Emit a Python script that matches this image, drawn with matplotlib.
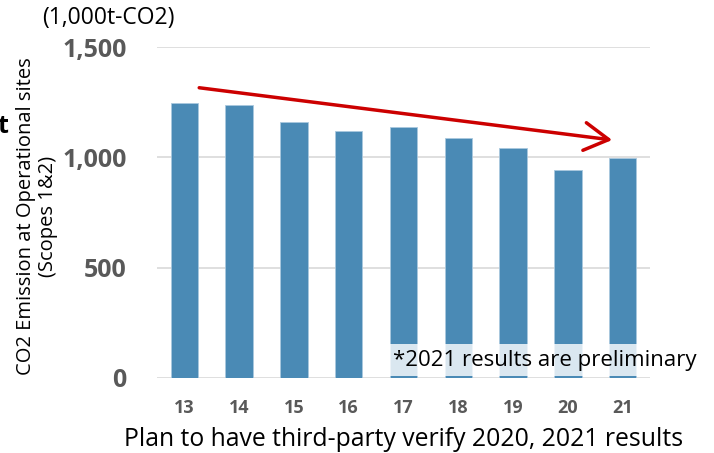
import matplotlib
matplotlib.use("Agg")
import matplotlib.pyplot as plt
from matplotlib.patches import FancyArrowPatch

plt.rcParams['font.family'] = ['Open Sans', 'DejaVu Sans']

years = ["13", "14", "15", "16", "17", "18", "19", "20", "21"]
emissions = [1246, 1235, 1160, 1118, 1136, 1089, 1042, 944, 997]
yticks = [0, 500, 1000, 1500]
ytick_labels = ["0", "500", "1,000", "1,500"]
unit_label = "(1,000t-CO2)"
ylabel = "CO2 Emission at Operational sites\n(Scopes 1&2)"
xlabel = "Plan to have third-party verify 2020, 2021 results"
note = "*2021 results are preliminary"
trend_start = (0.22, 1317)
trend_end = (7.86, 1077)

bar_color = "#4a8ab5"
grid_color = "#d9d9d9"
tick_color = "#595959"

fig = plt.figure(figsize=(7.14, 4.53), dpi=100)
ax = fig.add_axes([0.2199, 0.1656, 0.6905, 0.7306])

x = list(range(len(years)))
ax.bar(x, emissions, width=0.5, color=bar_color, edgecolor="#a9c8de", linewidth=0.6, zorder=2)

ax.set_xlim(-0.5, len(years) - 0.5)
ax.set_ylim(0, 1500)
ax.set_yticks(yticks)
ax.set_yticklabels(ytick_labels)
ax.set_xticks(x)
ax.set_xticklabels(years)
for s in ax.spines.values():
    s.set_visible(False)
ax.yaxis.grid(True, color=grid_color, linewidth=1.2, zorder=0)
ax.set_axisbelow(True)
ax.tick_params(axis='both', length=0)
ax.tick_params(axis='y', pad=22, labelsize=18, labelcolor=tick_color)
ax.tick_params(axis='x', pad=15, labelsize=13, labelcolor=tick_color)
for lbl in ax.get_yticklabels() + ax.get_xticklabels():
    lbl.set_fontweight('bold')

ax.set_xlabel(xlabel, fontsize=17.8, labelpad=7)

fig.text(0.052, 0.523, ylabel, rotation=90, fontsize=14.5, ha='center', va='center',
         linespacing=1.1)
fig.text(0.059, 0.96, unit_label, fontsize=16.5, ha='left', va='center')
fig.text(-0.004, 0.72, "t", fontsize=18, fontweight='bold', ha='left', va='center')

ax.text(0.479, 0.054, note, transform=ax.transAxes, fontsize=16, ha='left', va='center',
        zorder=5,
        bbox=dict(boxstyle='square,pad=0.25', facecolor='white', alpha=0.8,
                  edgecolor='none'))

arrow = FancyArrowPatch(trend_start, trend_end, arrowstyle='->,head_length=7,head_width=4',
                        color='#cc0000', linewidth=2.5, mutation_scale=2.5, zorder=4)
ax.add_patch(arrow)

fig.savefig("out.png", dpi=100)
